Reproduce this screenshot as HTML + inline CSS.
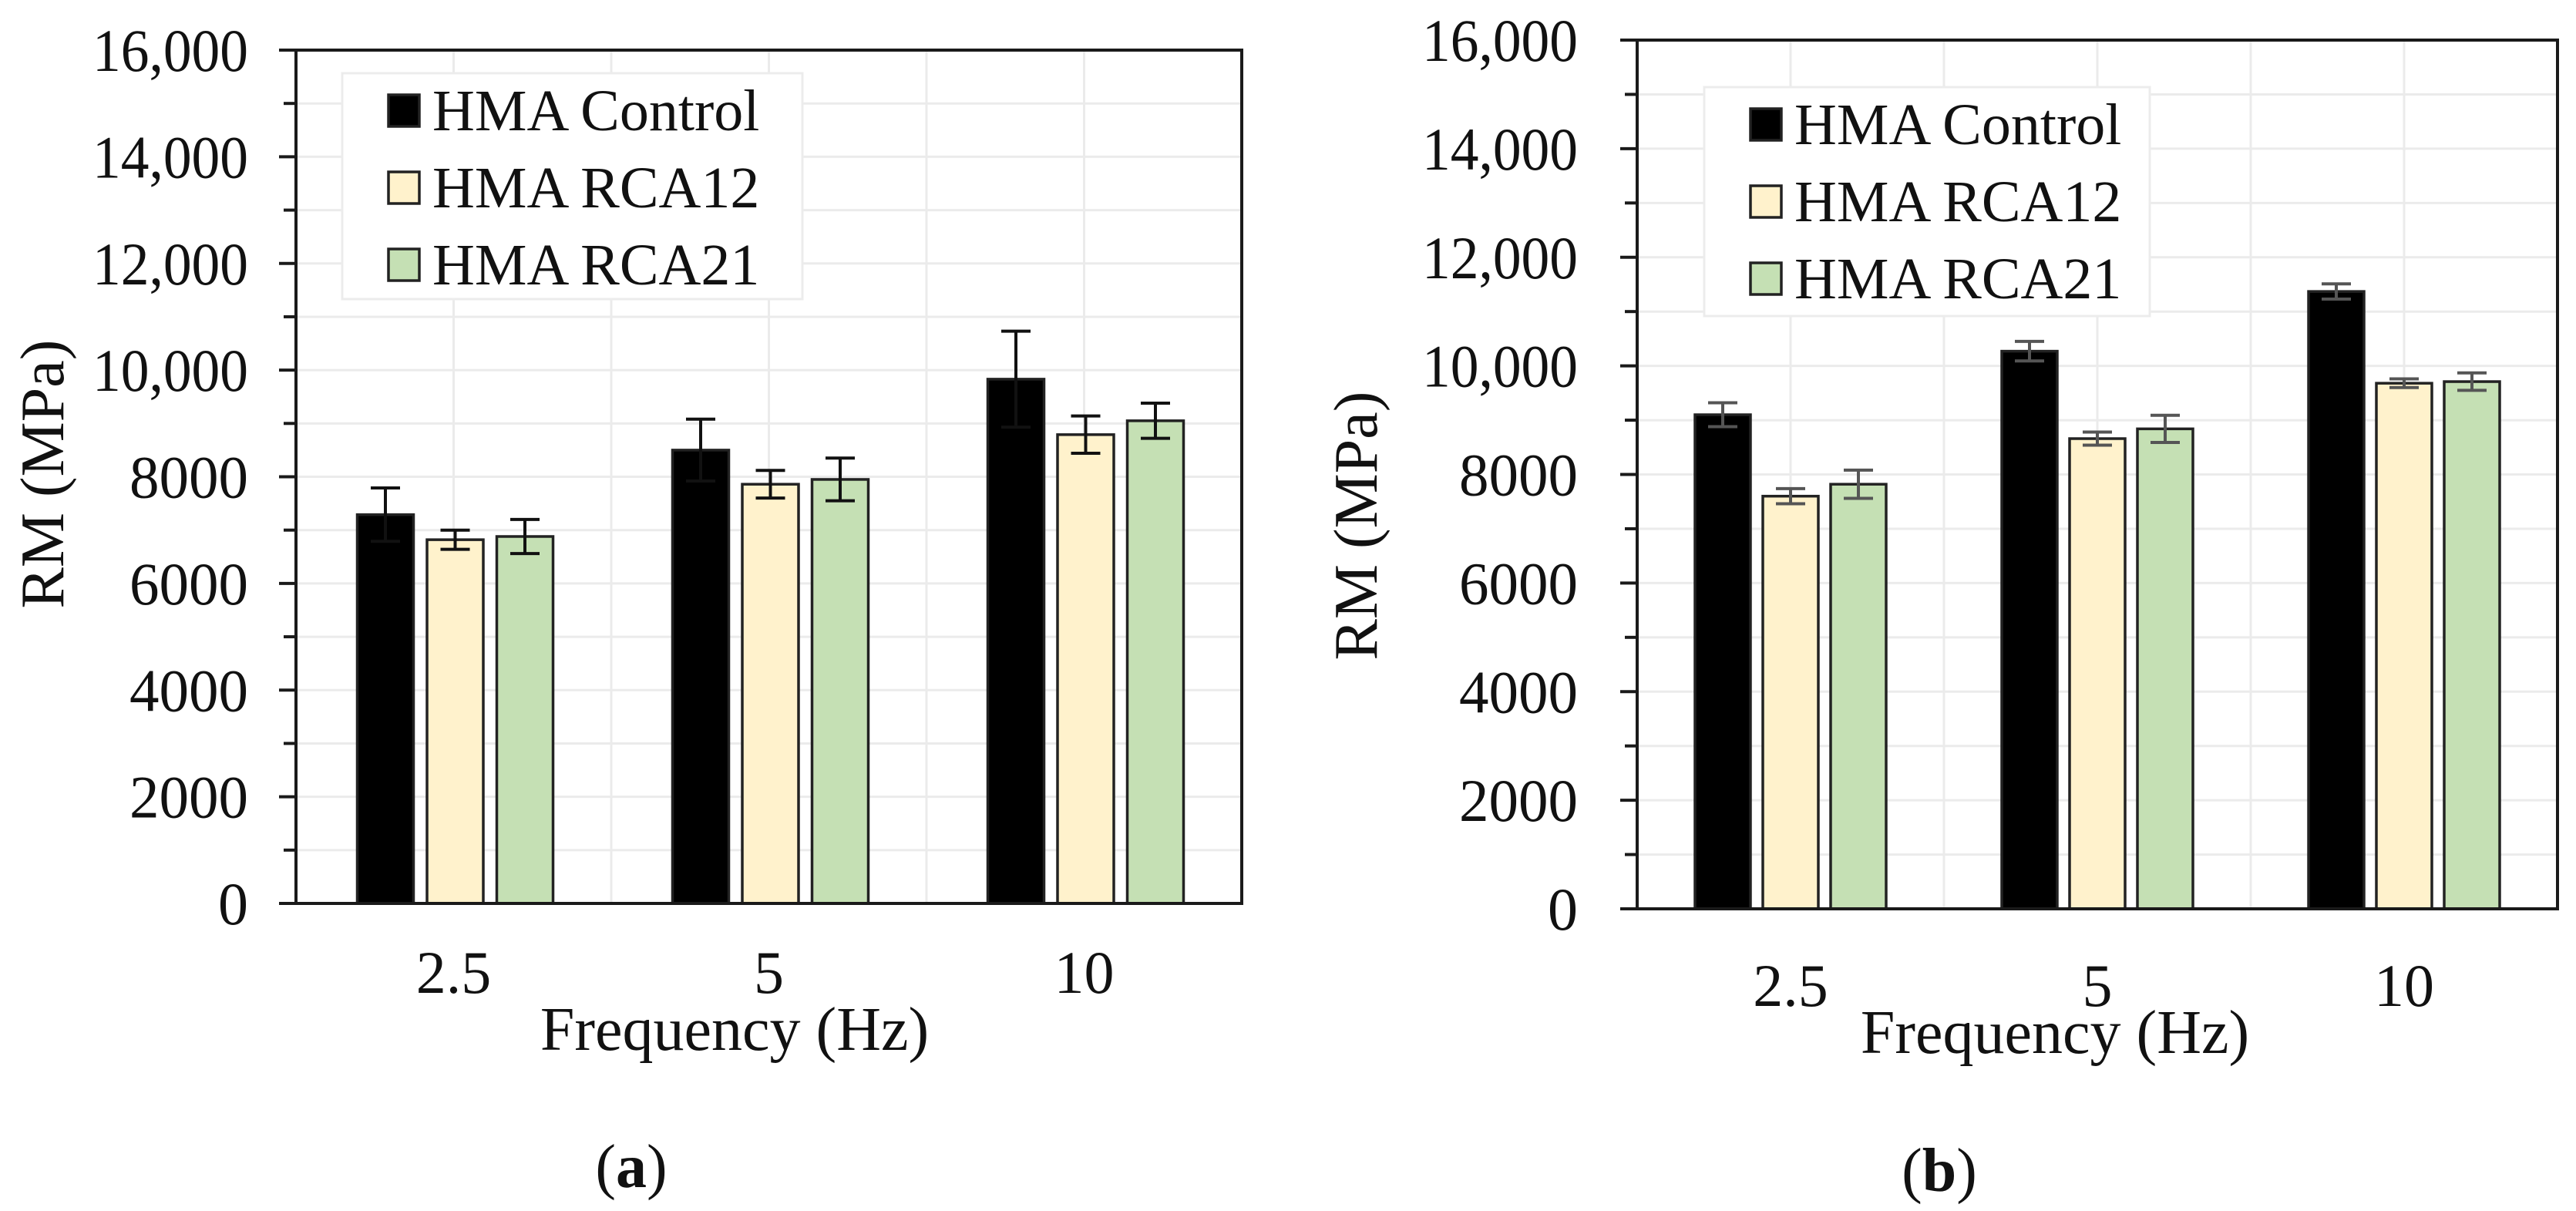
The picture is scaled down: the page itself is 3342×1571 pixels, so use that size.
<!DOCTYPE html>
<html><head><meta charset="utf-8"><style>
html,body{margin:0;padding:0;background:#fff;}
svg{display:block;font-family:"Liberation Serif",serif;}
</style></head><body>
<svg id="c" width="3342" height="1571" viewBox="0 0 3342 1571" xmlns="http://www.w3.org/2000/svg"></svg>
<script>
const categories = ["2.5", "5", "10"];
const seriesNames = ["HMA Control", "HMA RCA12", "HMA RCA21"];
const yTicks = [0, 2000, 4000, 6000, 8000, 10000, 12000, 14000, 16000];
const yTickLabels = ["0", "2000", "4000", "6000", "8000", "10,000", "12,000", "14,000", "16,000"];
// panel (a)
const aControl = [7290, 8500, 9830];
const aRCA12 = [6820, 7860, 8790];
const aRCA21 = [6880, 7950, 9050];
const aControlErr = [500, 580, 900];
const aRCA12Err = [180, 260, 350];
const aRCA21Err = [320, 400, 330];
// panel (b)
const bControl = [9100, 10270, 11370];
const bRCA12 = [7600, 8660, 9680];
const bRCA21 = [7820, 8840, 9710];
const bControlErr = [220, 180, 140];
const bRCA12Err = [140, 120, 80];
const bRCA21Err = [260, 250, 160];

const fills = ["#000000", "#fff2cc", "#c5e0b4"];
const NS = "http://www.w3.org/2000/svg";
const svg = document.getElementById("c");
function mk(tag, attrs, parent, text) {
  const e = document.createElementNS(NS, tag);
  for (const k in attrs) e.setAttribute(k, attrs[k]);
  if (text !== undefined) e.textContent = text;
  (parent || svg).appendChild(e);
  return e;
}

function panel(p) {
  const g = mk("g", {});
  
  
  const y = v => p.y0 - (v / 16000) * (p.y0 - p.y16);
  const catW = (p.x1 - p.x0) / categories.length;
  const xc = i => p.x0 + catW * (i + 0.5);
  for (let v = 1000; v <= 16000; v += 1000) {
    const l = mk("line", {x1: p.x0, x2: p.x1, y1: y(v), y2: y(v), stroke: "#ebebeb", "stroke-width": 3}, g);
    
    
  }
  for (let i = 0; i < categories.length; i++) {
    for (const xx of [xc(i), p.x0 + catW * (i + 1)]) {
      if (xx >= p.x1 - 1) continue;
      const l = mk("line", {x1: xx, x2: xx, y1: p.y16, y2: p.y0, stroke: "#ebebeb", "stroke-width": 3}, g);
      
      
    }
  }
  const lg = mk("g", {}, g);
  
  
  mk("rect", {x: p.lx, y: p.ly, width: p.lw, height: p.lh, fill: "#fff", stroke: "#ececec", "stroke-width": 3}, lg);
  seriesNames.forEach((n, k) => {
    const e = mk("g", {}, lg);
    
    
    const ry = p.ly + 28 + k * p.lstep;
    mk("rect", {x: p.lx + 60, y: ry, width: 40, height: 41, fill: fills[k], stroke: "#222", "stroke-width": 3.5}, e);
    mk("text", {x: p.lx + 117, y: ry + 46, "font-size": 76, fill: "#111"}, e, n);
  });
  const series = p.series, errs = p.errs;
  const bw = p.bw, step = p.step;
  series.forEach((vals, k) => {
    vals.forEach((v, i) => {
      const bx = xc(i) + (k - 1) * step - bw / 2 + p.off;
      const r = mk("rect", {x: bx, y: y(v), width: bw, height: y(0) - y(v), fill: fills[k], stroke: "#222", "stroke-width": 3.5}, g);
      
      
      const e = errs[k][i], cx = bx + bw / 2;
      const eg = mk("g", {stroke: p.errColor, "stroke-width": 4}, g);
      
      
      mk("line", {x1: cx, x2: cx, y1: y(v + e), y2: y(v - e)}, eg);
      mk("line", {x1: cx - 19, x2: cx + 19, y1: y(v + e), y2: y(v + e)}, eg);
      mk("line", {x1: cx - 19, x2: cx + 19, y1: y(v - e), y2: y(v - e)}, eg);
    });
  });
  const f = mk("rect", {x: p.x0, y: p.y16, width: p.x1 - p.x0, height: p.y0 - p.y16, fill: "none", stroke: "#1a1a1a", "stroke-width": 4}, g);
  
  
  for (let v = 0; v <= 16000; v += 1000) {
    const major = v % 2000 === 0;
    mk("line", {x1: p.x0 - (major ? 22 : 16), x2: p.x0, y1: y(v), y2: y(v), stroke: "#1a1a1a", "stroke-width": 4}, g);
  }
  yTicks.forEach((v, i) => {
    const lab = yTickLabels[i];
    const attrs = {x: p.tx, y: y(v) + 27, "text-anchor": "end", "font-size": 78, fill: "#111"};
    if (lab.length > 4) { attrs.textLength = 202; attrs.lengthAdjust = "spacingAndGlyphs"; }
    else if (lab.length === 4) { attrs.textLength = 154; attrs.lengthAdjust = "spacingAndGlyphs"; }
    const t = mk("text", attrs, g, lab);
    
    
  });
  categories.forEach((c, i) => {
    const t = mk("text", {x: xc(i), y: p.xly, "text-anchor": "middle", "font-size": 78, fill: "#111"}, g, c);
    
    
  });
  const xt = mk("text", {x: p.xtx, y: p.xty, "text-anchor": "middle", "font-size": 80, fill: "#111"}, g, "Frequency (Hz)");
  
  
  const yt = mk("text", {x: 0, y: 0, "text-anchor": "middle", "font-size": 80, fill: "#111", transform: `translate(${p.ytx},${p.yty}) rotate(-90)`}, g, "RM (MPa)");
  
  
  const cap = mk("text", {x: p.capx, y: p.capy, "text-anchor": "middle", "font-size": 80, fill: "#111"}, g);
  
  
  mk("tspan", {}, cap, "(");
  mk("tspan", {"font-weight": "bold"}, cap, p.cap);
  mk("tspan", {}, cap, ")");
}

panel({name: "chart-a", x0: 384, x1: 1611, y0: 1172, y16: 65, tx: 322, xly: 1288, xtx: 953, xty: 1362, ytx: 82, yty: 615,
  capx: 819, capy: 1540, cap: "a", lx: 444, ly: 95, lw: 597, lh: 293, lstep: 100,
  bw: 73, step: 90.5, off: 2, errColor: "#111",
  series: [aControl, aRCA12, aRCA21], errs: [aControlErr, aRCA12Err, aRCA21Err]});
panel({name: "chart-b", x0: 2124, x1: 3318, y0: 1179, y16: 52, tx: 2047, xly: 1305, xtx: 2666, xty: 1366, ytx: 1786, yty: 682,
  capx: 2516, capy: 1545, cap: "b", lx: 2211, ly: 113, lw: 578, lh: 297, lstep: 100,
  bw: 72, step: 88, off: 0, errColor: "#555",
  series: [bControl, bRCA12, bRCA21], errs: [bControlErr, bRCA12Err, bRCA21Err]});
</script>
</body></html>
